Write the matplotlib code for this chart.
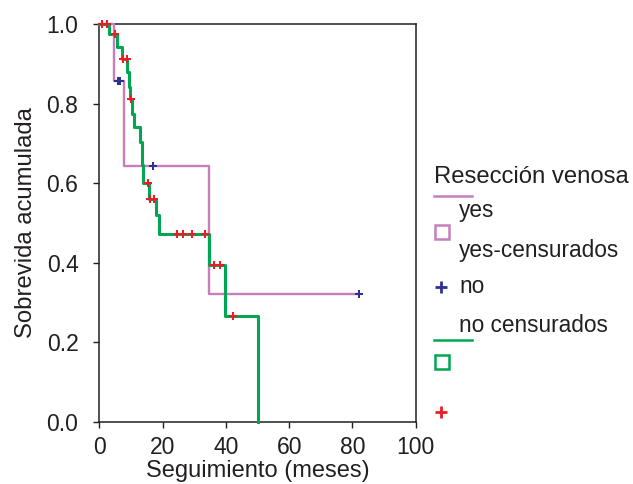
import matplotlib
matplotlib.use("Agg")
import matplotlib.pyplot as plt
from matplotlib.lines import Line2D

plt.rcParams['font.family'] = ['Liberation Sans', 'DejaVu Sans']

# curva "yes" (reseccion venosa si)
yes_t = [0, 4.7, 7.9, 34.8, 82.0]
yes_s = [1.0, 0.857, 0.643, 0.321, 0.321]
yes_cens_t = [5.8, 6.5, 16.9, 82.0]
yes_cens_s = [0.857, 0.857, 0.643, 0.321]

# curva "no"
no_t = [0, 3.2, 5.5, 7.1, 8.6, 9.3, 9.8, 10.3, 11.1, 13.0, 13.4, 13.9, 15.6, 17.9, 19.0, 34.8, 39.8, 50.3]
no_s = [1.0, 0.975, 0.943, 0.912, 0.880, 0.842, 0.811, 0.775, 0.741, 0.705, 0.645, 0.601, 0.561, 0.519, 0.473, 0.394, 0.265, 0.0]
no_cens_t = [0.7, 2.3, 5.0, 7.4, 8.6, 10.0, 15.3, 16.1, 17.4, 24.6, 26.4, 29.2, 33.5, 36.2, 38.3, 42.2]
no_cens_s = [1.0, 1.0, 0.975, 0.912, 0.912, 0.811, 0.601, 0.561, 0.561, 0.473, 0.473, 0.473, 0.473, 0.394, 0.394, 0.265]

c_yes = '#c67fbc'
c_yes_cens = '#2e3192'
c_no = '#00a651'
c_no_cens = '#ed1c24'
c_txt = '#231f20'

W, H = 633, 484
fig = plt.figure(figsize=(W / 100, H / 100), dpi=100)
ax_top, ax_bot = 24.3, 421.7
ax = fig.add_axes([99.3 / W, 1 - ax_bot / H, (415.7 - 99.3) / W, (ax_bot - ax_top) / H])

ax.step(yes_t, yes_s, where='post', color=c_yes, lw=1.7, clip_on=False, zorder=3)
ax.step(no_t, no_s, where='post', color=c_no, lw=2.2, clip_on=False, zorder=4)
ax.plot(yes_cens_t, yes_cens_s, ls='none', marker='P', ms=6.2, mew=0, color=c_yes_cens, clip_on=False, zorder=5)
ax.plot(no_cens_t, no_cens_s, ls='none', marker='P', ms=6.2, mew=0, color=c_no_cens, clip_on=False, zorder=5)

ax.set_xlim(0, 100)
ax.set_ylim(0, 1.0)
ax.set_xticks([0, 20, 40, 60, 80, 100])
ax.set_yticks([0.0, 0.2, 0.4, 0.6, 0.8, 1.0])
ax.set_yticklabels(['0.0', '0.2', '0.4', '0.6', '0.8', '1.0'])
ax.tick_params(direction='out', length=4, width=1, labelsize=16.5, colors=c_txt)
ax.tick_params(axis='y', pad=11)
ax.tick_params(axis='x', pad=6.5)
for s in ax.spines.values():
    s.set_linewidth(1.1)
    s.set_color(c_txt)

ax.set_xlabel('Seguimiento (meses)', fontsize=17, color=c_txt, va='baseline')
# linea base del titulo del eje x en ~477 px
ax.xaxis.set_label_coords(0.5, (ax_bot - 477) / (ax_bot - ax_top))
ax.set_ylabel('Sobrevida acumulada', fontsize=17.2, color=c_txt, labelpad=7)

# leyenda estilo SPSS
def fx(px):
    return px / W

def fy(py):
    return 1 - py / H

txt = dict(color=c_txt, va='baseline', ha='left')
fig.text(fx(434), fy(182.7), 'Resección venosa', fontsize=17.2, **txt)
fig.text(fx(459), fy(217.3), 'yes', fontsize=16.3, **txt)
fig.text(fx(459), fy(256.7), 'yes-censurados', fontsize=16.3, **txt)
fig.text(fx(459), fy(293.3), 'no', fontsize=16.3, **txt)
fig.text(fx(459), fy(331.7), 'no censurados', fontsize=16.3, **txt)

fig.add_artist(Line2D([fx(434), fx(472)], [fy(196), fy(196)], color=c_yes, lw=1.8))
fig.add_artist(Line2D([fx(442.4)], [fy(232.5)], marker='s', ms=10, mfc='none', mec=c_yes, mew=1.8, ls='none'))
fig.add_artist(Line2D([fx(441)], [fy(286.7)], marker='+', ms=9, mew=2, color=c_yes_cens, ls='none'))
fig.add_artist(Line2D([fx(434), fx(472)], [fy(340), fy(340)], color=c_no, lw=1.8))
fig.add_artist(Line2D([fx(442)], [fy(361.7)], marker='s', ms=10, mfc='none', mec=c_no, mew=1.8, ls='none'))
fig.add_artist(Line2D([fx(441)], [fy(411.7)], marker='+', ms=9, mew=2, color=c_no_cens, ls='none'))

fig.savefig('out.png', dpi=100)
